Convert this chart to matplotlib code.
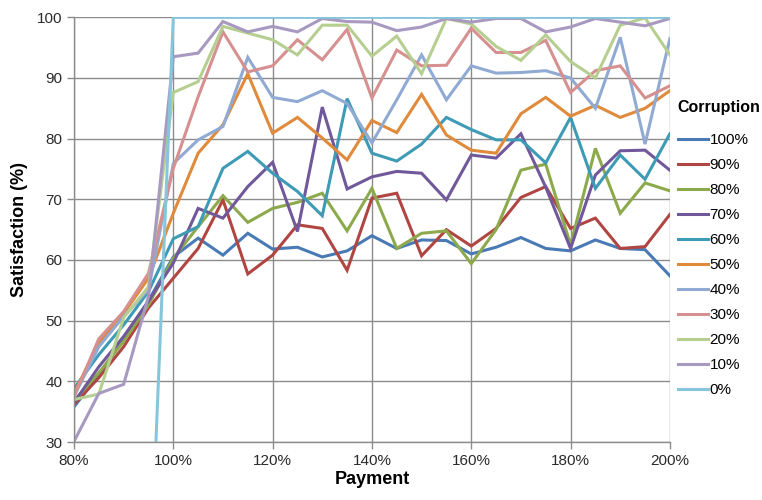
import matplotlib
matplotlib.use("Agg")
import matplotlib.pyplot as plt
from matplotlib.ticker import FuncFormatter

plt.rcParams['font.family'] = ['Liberation Sans', 'DejaVu Sans']

payment = [80, 85, 90, 95, 100, 105, 110, 115, 120, 125, 130, 135, 140,
           145, 150, 155, 160, 165, 170, 175, 180, 185, 190, 195, 200]

corruption_labels = ["100%", "90%", "80%", "70%", "60%", "50%", "40%",
                     "30%", "20%", "10%", "0%"]

c100 = [35.8, 41.0, 47.0, 53.3, 60.5, 63.6, 60.8, 64.4, 61.8, 62.1, 60.5, 61.5, 64.0,
        61.9, 63.3, 63.2, 61.0, 62.1, 63.7, 61.9, 61.5, 63.3, 61.9, 61.7, 57.4]
c90 = [36.2, 40.6, 45.7, 52.1, 57.0, 61.9, 69.9, 57.7, 60.8, 65.8, 65.2, 58.3, 70.2,
       71.0, 60.7, 65.0, 62.3, 65.2, 70.3, 72.1, 65.2, 66.9, 61.9, 62.2, 67.5]
c80 = [36.8, 41.4, 46.6, 52.6, 60.3, 65.5, 70.6, 66.2, 68.5, 69.5, 71.0, 64.8, 71.8,
       61.9, 64.4, 64.8, 59.4, 65.0, 74.8, 75.8, 62.5, 78.4, 67.7, 72.7, 71.4]
c70 = [36.5, 42.4, 47.4, 53.2, 59.5, 68.5, 66.9, 72.1, 76.1, 64.7, 85.2, 71.7, 73.7,
       74.6, 74.3, 69.9, 77.3, 76.8, 80.8, 72.0, 61.9, 74.0, 78.0, 78.1, 74.8]
c60 = [38.8, 44.4, 49.3, 54.8, 63.5, 65.5, 75.1, 77.9, 74.3, 71.3, 67.3, 86.6, 77.6,
       76.3, 79.1, 83.5, 81.5, 79.8, 79.8, 76.0, 83.5, 71.8, 77.3, 73.3, 80.8]
c50 = [38.0, 46.3, 51.2, 57.0, 67.7, 77.6, 82.3, 90.7, 80.9, 83.5, 80.1, 76.5, 83.0,
       81.0, 87.3, 80.6, 78.1, 77.6, 84.1, 86.8, 83.7, 85.5, 83.5, 85.0, 87.9]
c40 = [37.5, 45.7, 50.7, 55.1, 75.9, 79.8, 82.0, 93.4, 86.8, 86.1, 87.9, 85.8, 79.3,
       86.4, 93.8, 86.4, 92.0, 90.8, 90.9, 91.2, 90.0, 85.0, 96.7, 79.1, 96.5]
c30 = [37.5, 47.0, 51.5, 57.8, 75.1, 86.9, 97.6, 91.0, 92.0, 96.3, 93.0, 98.0, 86.7,
       94.6, 92.0, 92.1, 98.2, 94.2, 94.2, 96.2, 87.6, 91.2, 92.0, 86.7, 88.7]
c20 = [37.0, 37.9, 50.5, 55.6, 87.6, 89.4, 98.5, 97.4, 96.3, 93.8, 98.7, 98.7, 93.6,
       96.9, 90.7, 99.8, 98.9, 95.2, 92.9, 97.1, 92.7, 90.0, 98.7, 99.9, 93.8]
c10 = [30.1, 38.0, 39.5, 54.0, 93.5, 94.1, 99.3, 97.6, 98.5, 97.6, 99.8, 99.3, 99.2,
       97.8, 98.4, 99.8, 99.2, 99.8, 99.8, 97.6, 98.4, 99.8, 99.2, 98.6, 99.8]
c0 = [0, 0, 0, 0, 100, 100, 100, 100, 100, 100, 100, 100, 100,
      100, 100, 100, 100, 100, 100, 100, 100, 100, 100, 100, 100]

series = [c100, c90, c80, c70, c60, c50, c40, c30, c20, c10, c0]
colors = ['#4A7AB5', '#B04642', '#8CAA4C', '#71589A', '#3E9BB5', '#E08A3C',
          '#90AAD4', '#D5908F', '#B6CF91', '#A899C1', '#86C6DC']

fig = plt.figure(figsize=(7.62, 5.00), dpi=100)
ax = fig.add_axes([0.0971, 0.116, 0.782, 0.8494])

for vals, lab, col in zip(series, corruption_labels, colors):
    ax.plot(payment, vals, color=col, lw=2.2, label=lab, solid_joinstyle='miter')

ax.set_xlim(80, 200)
ax.set_ylim(30, 100)
ax.set_xticks(range(80, 201, 20))
ax.set_yticks(range(30, 101, 10))
ax.xaxis.set_major_formatter(FuncFormatter(lambda v, p: f"{int(v)}%"))
ax.grid(True, color='#8C8C8C', lw=1.0)
ax.set_axisbelow(True)
for s in ['top', 'right']:
    ax.spines[s].set_visible(False)
for s in ['left', 'bottom']:
    ax.spines[s].set_color('#8C8C8C')
    ax.spines[s].set_linewidth(1.0)
ax.tick_params(axis='both', colors='#8C8C8C', labelcolor='#2A2A2A',
               labelsize=11, length=5, width=1.0, direction='out')

ax.set_xlabel('Payment', fontsize=13, fontweight='bold', labelpad=2)
ax.set_ylabel('Satisfaction (%)', fontsize=13, fontweight='bold', labelpad=6)

leg = ax.legend(loc='upper left', bbox_to_anchor=(0.995, 0.83), frameon=False,
                title='Corruption', fontsize=11, handlelength=2.0,
                handletextpad=0.1, labelspacing=0.72, borderaxespad=0.3)
leg.get_title().set_fontweight('bold')
leg.get_title().set_fontsize(11.5)
leg._legend_box.align = 'left'
leg._legend_box.sep = 13

fig.savefig('out.png', dpi=100)
